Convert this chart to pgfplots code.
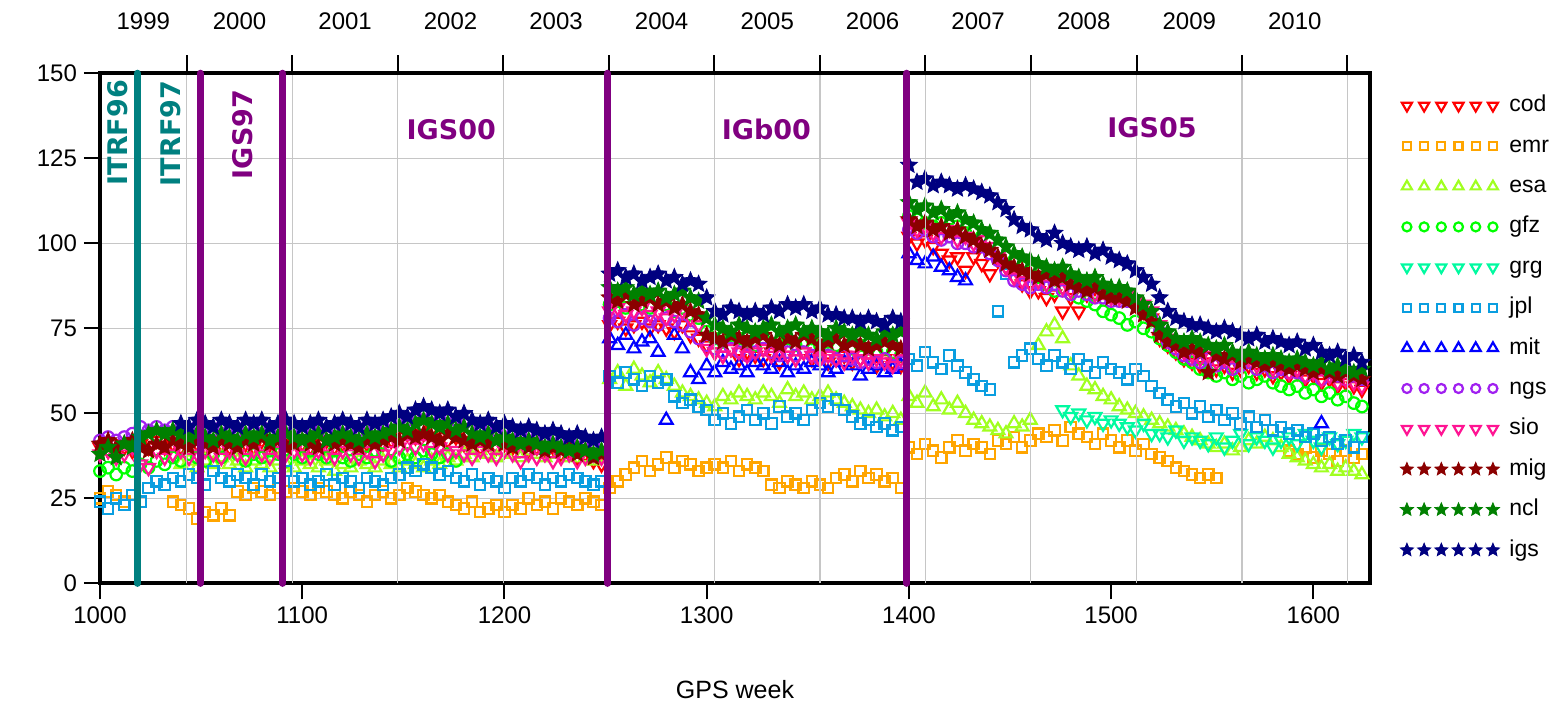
\documentclass[border=0pt]{standalone}
\usepackage{fontspec}
\setmainfont{Liberation Sans}
\newfontfamily\labfont{DejaVu Sans}
\usepackage{pgfplots}
\pgfplotsset{compat=1.18}
\usepackage{pgfplotstable}

\definecolor{ccod}{RGB}{255,0,0}
\definecolor{cemr}{RGB}{255,165,0}
\definecolor{cesa}{RGB}{160,255,32}
\definecolor{cgfz}{RGB}{0,255,0}
\definecolor{cgrg}{RGB}{0,250,160}
\definecolor{cjpl}{RGB}{10,158,224}
\definecolor{cmit}{RGB}{0,0,255}
\definecolor{cngs}{RGB}{160,32,240}
\definecolor{csio}{RGB}{255,20,147}
\definecolor{cmig}{RGB}{139,0,0}
\definecolor{cncl}{RGB}{0,128,0}
\definecolor{cigs}{RGB}{0,0,128}
\definecolor{cpur}{RGB}{128,0,128}
\definecolor{cteal}{RGB}{0,128,128}

\pgfdeclareplotmark{fstar}{%
  \pgfpathmoveto{\pgfqpointpolar{90}{\pgfplotmarksize}}%
  \pgfpathlineto{\pgfqpointpolar{126}{0.45\pgfplotmarksize}}%
  \pgfpathlineto{\pgfqpointpolar{162}{\pgfplotmarksize}}%
  \pgfpathlineto{\pgfqpointpolar{198}{0.45\pgfplotmarksize}}%
  \pgfpathlineto{\pgfqpointpolar{234}{\pgfplotmarksize}}%
  \pgfpathlineto{\pgfqpointpolar{270}{0.45\pgfplotmarksize}}%
  \pgfpathlineto{\pgfqpointpolar{306}{\pgfplotmarksize}}%
  \pgfpathlineto{\pgfqpointpolar{342}{0.45\pgfplotmarksize}}%
  \pgfpathlineto{\pgfqpointpolar{18}{\pgfplotmarksize}}%
  \pgfpathlineto{\pgfqpointpolar{54}{0.45\pgfplotmarksize}}%
  \pgfpathclose
  \pgfusepathqfillstroke
}

\pgfplotstableread{
wk cod emr esa gfz grg jpl mit ngs sio mig ncl igs
1000 40 25 nan 33 nan 24 nan 42 38 41 38 nan
1004 39 27 nan 34 nan 22 nan 43 39 42 40 nan
1008 41 26 nan 32 nan 25 nan 42 37 40 37 nan
1012 40 24 nan 34 nan 23 nan 43 38 41 41 nan
1016 39 nan nan 33 nan 26 nan 44 40 42 40 nan
1020 41 nan nan 35 nan 24 nan 46 35 40 43 nan
1024 40 nan nan 34 nan 28 nan 45 34 39 44 nan
1028 42 nan nan 36 nan 30 nan 46 39 41 45 nan
1032 40 nan nan 35 nan 29 nan 45 37 40 44 nan
1036 41 24 nan 37 nan 31 nan 46 38 42 45 nan
1040 40 23 35 36 nan 30 nan 46 39 41 44 47
1044 42 22 36 38 nan 32 nan 45 37 40 43 46
1048 41 19 34 37 nan 31 nan 46 38 42 44 48
1052 40 21 36 36 nan 29 nan 45 39 41 43 47
1056 42 20 35 38 nan 33 nan 45 38 40 42 46
1060 41 22 37 37 nan 31 nan 46 37 42 44 48
1064 40 20 35 39 nan 30 nan 45 39 41 43 47
1068 42 27 36 38 nan 32 nan 45 38 40 42 46
1072 41 26 34 36 nan 31 nan 46 37 42 44 48
1076 40 28 36 38 nan 29 nan 45 39 41 43 47
1080 42 27 35 37 nan 32 nan 46 38 43 44 48
1084 41 26 34 39 nan 30 nan 45 37 41 42 46
1088 40 28 36 38 nan 31 nan 45 39 42 43 47
1092 41 27 35 36 nan 33 nan 46 38 40 44 48
1096 42 28 34 38 nan 30 nan 45 39 41 43 47
1100 41 27 36 37 nan 31 nan 45 38 42 42 46
1104 40 26 35 39 nan 29 nan 46 37 41 43 47
1108 41 28 34 38 nan 30 nan 45 39 40 44 48
1112 42 27 36 37 nan 32 nan 45 38 42 42 46
1116 40 26 33 39 nan 29 nan 46 37 41 43 47
1120 41 25 35 37 nan 31 nan 46 39 42 44 48
1124 42 27 34 36 nan 30 nan 45 38 41 43 47
1128 40 26 36 38 nan 28 nan 45 37 40 42 46
1132 41 24 35 37 nan 31 nan 46 39 42 44 48
1136 42 26 34 39 nan 30 nan 46 36 41 43 47
1140 41 27 36 38 nan 29 nan 46 38 42 44 48
1144 42 25 35 36 nan 31 nan 47 39 43 45 49
1148 43 26 34 37 nan 32 nan 48 40 42 46 50
1152 44 28 36 38 nan 34 nan 48 41 44 45 49
1156 43 27 35 37 nan 33 nan 49 40 43 47 51
1160 44 26 34 39 nan 35 nan 50 41 44 48 52
1164 45 25 36 38 nan 34 nan 49 39 43 47 51
1168 43 26 35 37 nan 32 nan 48 40 42 46 50
1172 42 24 37 38 nan 33 nan 48 38 44 47 51
1176 43 23 36 36 nan 31 nan 48 39 43 45 49
1180 41 22 38 nan nan 30 nan 47 38 42 46 50
1184 42 24 37 nan nan 32 nan 46 37 41 44 48
1188 40 21 39 nan nan 29 nan 46 39 42 43 47
1192 41 22 38 nan nan 31 nan 46 38 41 44 48
1196 40 23 37 nan nan 30 nan 45 37 42 42 46
1200 41 21 39 nan nan 28 nan 45 39 41 43 47
1204 40 23 38 nan nan 31 nan 44 38 40 42 46
1208 41 22 37 nan nan 30 nan 44 36 41 41 45
1212 39 25 39 nan nan 32 nan 44 38 40 42 46
1216 40 23 38 nan nan 31 nan 43 37 41 41 45
1220 39 24 37 nan nan 29 nan 43 38 39 40 44
1224 40 22 38 nan nan 31 nan 43 36 40 41 45
1228 38 25 39 nan nan 30 nan 42 37 39 40 44
1232 39 24 37 nan nan 32 nan 42 38 40 39 43
1236 37 23 38 nan nan 31 nan 42 36 38 40 44
1240 38 25 37 nan nan 30 nan 41 37 39 39 43
1244 36 24 36 nan nan 29 nan 41 38 37 38 42
1248 35 23 37 nan nan 30 nan 41 37 38 39 43
1252 76 28 60 82 nan 61 72 78 80 84 87 91
1256 77 30 62 83 nan 59 70 77 81 83 86 92
1260 75 32 58 81 nan 62 73 79 79 85 87 90
1264 76 34 63 84 nan 60 69 76 80 82 85 91
1268 77 36 61 82 nan 58 71 78 81 83 86 89
1272 75 33 59 81 nan 61 72 77 79 84 85 90
1276 76 35 62 83 nan 59 68 76 80 82 86 91
1280 75 37 60 82 nan 60 48 78 78 83 84 89
1284 74 34 58 80 nan 55 73 77 79 81 85 90
1288 76 36 56 81 nan 53 69 76 80 82 86 88
1292 73 35 55 79 nan 54 62 74 78 80 84 89
1296 72 33 54 78 nan 52 60 72 76 79 83 88
1300 70 34 53 74 nan 51 64 70 69 73 78 84
1304 68 35 52 72 nan 48 62 69 68 72 76 80
1308 67 34 55 71 nan 50 65 68 67 71 75 79
1312 69 36 54 73 nan 47 63 69 69 73 74 81
1316 66 33 56 72 nan 49 64 68 68 72 76 80
1320 68 35 55 71 nan 51 62 67 67 71 75 79
1324 67 34 54 70 nan 48 65 68 68 72 74 80
1328 66 33 56 72 nan 50 64 69 69 73 75 79
1332 68 29 55 73 nan 47 63 68 67 71 76 81
1336 65 28 53 71 nan 52 65 67 68 70 74 80
1340 67 30 57 72 nan 49 62 68 67 72 75 82
1344 66 29 55 70 nan 50 64 67 66 71 76 81
1348 68 28 56 71 nan 48 63 68 68 73 74 82
1352 66 30 54 72 nan 51 65 67 67 72 75 80
1356 67 29 55 70 nan 53 64 66 66 70 74 81
1360 65 28 56 71 nan 52 62 67 67 71 73 79
1364 66 31 54 70 nan 54 63 66 66 72 75 79
1368 67 32 53 71 nan 51 65 67 65 70 74 78
1372 65 30 52 69 nan 49 64 66 67 71 73 78
1376 66 33 51 70 nan 47 61 65 66 70 74 77
1380 65 31 50 69 nan 48 63 66 65 69 73 78
1384 64 32 51 68 nan 46 64 65 66 70 72 77
1388 66 30 49 69 nan 47 62 66 65 71 74 76
1392 65 31 50 68 nan 45 63 64 64 70 73 78
1396 64 28 48 67 nan 46 64 65 66 69 74 77
1400 102 40 55 108 nan 66 97 104 106 107 112 123
1404 100 38 53 107 nan 64 95 103 104 105 110 118
1408 101 41 56 106 nan 68 94 104 105 106 111 119
1412 99 39 52 105 nan 65 96 102 103 104 109 117
1416 97 37 54 106 nan 63 93 101 102 105 110 118
1420 95 40 51 104 nan 67 92 102 104 103 108 117
1424 96 42 53 105 nan 64 90 100 101 104 109 116
1428 92 39 50 103 nan 62 89 100 102 102 107 117
1432 96 41 48 104 nan 60 nan 99 100 101 106 116
1436 94 40 47 102 nan 58 nan 99 101 99 104 115
1440 91 38 46 100 nan 57 nan 97 99 98 103 114
1444 95 42 45 98 nan 80 nan 95 96 96 101 112
1448 93 41 44 96 nan 91 nan 92 93 94 99 110
1452 90 43 47 95 nan 65 nan 89 90 93 97 107
1456 88 40 46 93 nan 67 nan 88 89 92 96 105
1460 86 42 48 92 nan 69 nan 87 88 91 95 104
1464 86 44 70 90 nan 66 nan 88 89 90 94 102
1468 84 43 74 88 nan 64 nan 87 88 91 93 101
1472 85 45 76 86 nan 67 nan 88 90 89 92 103
1476 80 42 72 87 51 65 nan 86 87 90 93 100
1480 84 46 64 85 49 63 nan 85 86 88 91 99
1484 80 44 61 84 50 66 nan 86 88 87 90 98
1488 85 43 58 83 48 64 nan 85 87 86 89 99
1492 87 41 57 82 49 62 nan 84 85 87 90 97
1496 86 44 55 80 47 65 nan 84 86 85 88 98
1500 85 42 54 79 48 63 nan 83 84 84 87 96
1504 85 40 52 78 47 62 nan 83 84 84 87 95
1508 84 42 51 76 46 60 nan 83 85 83 86 94
1512 82 39 50 77 45 63 nan 82 83 81 84 92
1516 80 41 49 75 47 61 nan 80 82 79 82 90
1520 78 38 48 74 44 58 nan 78 80 77 80 88
1524 72 37 47 72 44 56 nan 74 76 73 76 84
1528 70 36 46 70 43 54 nan 71 72 71 74 80
1532 68 34 45 68 45 52 nan 69 70 70 72 78
1536 66 33 44 66 42 53 nan 67 68 68 71 77
1540 65 32 43 65 43 50 nan 66 67 69 72 76
1544 64 31 42 63 42 52 nan 65 66 68 71 76
1548 65 32 41 62 41 49 nan 66 67 62 70 75
1552 63 31 40 61 43 51 nan 64 65 67 69 74
1556 64 nan 41 62 40 48 nan 65 66 66 70 75
1560 62 nan 39 60 42 50 nan 63 64 67 68 74
1564 63 nan 40 61 44 47 nan 64 65 65 67 73
1568 64 nan 42 59 41 49 nan 65 66 66 68 72
1572 62 nan 41 60 43 46 nan 63 64 65 67 73
1576 63 nan 43 61 42 48 nan 64 65 64 66 71
1580 61 nan 42 59 40 45 nan 62 63 65 67 72
1584 62 nan 40 58 42 46 nan 63 64 64 66 71
1588 61 39 38 57 43 44 nan 62 62 63 65 70
1592 62 38 37 58 41 45 nan 62 63 64 66 71
1596 60 40 36 56 44 43 nan 61 61 63 65 69
1600 61 37 35 57 42 44 nan 62 62 62 64 70
1604 59 39 34 55 40 42 47 60 60 63 65 68
1608 60 38 35 56 43 43 nan 62 61 62 63 67
1612 58 36 33 54 41 41 nan 61 59 61 64 68
1616 59 39 34 55 42 42 nan 60 60 62 63 66
1620 58 37 33 53 44 40 nan 61 59 61 62 67
1624 57 38 32 52 43 43 nan 60 58 60 63 65
}\datatab

\begin{document}
\begin{tikzpicture}
\useasboundingbox (-50pt,-58.85pt) rectangle (731.5pt,291.65pt);
% data axis
\begin{axis}[
  at={(0pt,0pt)}, anchor=south west,
  scale only axis, width=635pt, height=255pt,
  xmin=1000, xmax=1628, ymin=0, ymax=150,
  axis on top,
  xtick={1000,1100,...,1600}, xtick pos=lower,
  ytick={0,25,...,150}, ytick pos=left,
  /pgf/number format/assume math mode=true,
  /pgf/number format/1000 sep={},
  tick align=outside, major tick length=8pt,
  every tick/.style={black, line width=1pt},
  ymajorgrids, grid style={gray!45, line width=0.6pt},
  axis line style={line width=2pt},
  ticklabel style={font=\fontsize{12}{14}\selectfont},
  xlabel={GPS week},
  xlabel style={font=\fontsize{12.5}{15}\selectfont, at={(axis description cs:0.5,0)}, anchor=center, yshift=-53pt},
  legend image code/.code={\draw[mark repeat=1,mark phase=1,#1,every mark/.append style={scale=0.78}] plot coordinates {(0pt,0pt) (8.6pt,0pt) (17.2pt,0pt) (25.8pt,0pt) (34.4pt,0pt) (43pt,0pt)};},
  legend style={draw=none, fill=none, at={(1,1)}, anchor=north west, xshift=15pt, yshift=-8.5pt,
    inner sep=0pt, row sep=5.2pt, font=\fontsize{11.5}{14}\selectfont,
    nodes={inner sep=1.5pt, text height=9pt, text depth=3pt},
    /tikz/every odd column/.append style={column sep=3.5pt}},
  legend cell align=left,
]
\addplot[only marks, color=ccod, mark=triangle, mark size=3.7pt, line width=1.1pt, mark options={rotate=180}] table[x=wk,y=cod]{\datatab};
\addlegendentry{cod}
\addplot[only marks, color=cemr, mark=square, mark size=2.6pt, line width=1.1pt] table[x=wk,y=emr]{\datatab};
\addlegendentry{emr}
\addplot[only marks, color=cesa, mark=triangle, mark size=3.7pt, line width=1.1pt] table[x=wk,y=esa]{\datatab};
\addlegendentry{esa}
\addplot[only marks, color=cgfz, mark=o, mark size=2.9pt, line width=1.1pt] table[x=wk,y=gfz]{\datatab};
\addlegendentry{gfz}
\addplot[only marks, color=cgrg, mark=triangle, mark size=3.7pt, line width=1.1pt, mark options={rotate=180}] table[x=wk,y=grg]{\datatab};
\addlegendentry{grg}
\addplot[only marks, color=cjpl, mark=square, mark size=2.6pt, line width=1.1pt] table[x=wk,y=jpl]{\datatab};
\addlegendentry{jpl}
\addplot[only marks, color=cmit, mark=triangle, mark size=3.7pt, line width=1.1pt] table[x=wk,y=mit]{\datatab};
\addlegendentry{mit}
\addplot[only marks, color=cngs, mark=o, mark size=2.9pt, line width=1.1pt] table[x=wk,y=ngs]{\datatab};
\addlegendentry{ngs}
\addplot[only marks, color=csio, mark=triangle, mark size=3.7pt, line width=1.1pt, mark options={rotate=180}] table[x=wk,y=sio]{\datatab};
\addlegendentry{sio}
\addplot[only marks, color=cmig, mark=fstar, mark size=4.4pt, line width=0.4pt, mark options={fill=cmig}] table[x=wk,y=mig]{\datatab};
\addlegendentry{mig}
\addplot[only marks, color=cncl, mark=fstar, mark size=4.4pt, line width=0.4pt, mark options={fill=cncl}] table[x=wk,y=ncl]{\datatab};
\addlegendentry{ncl}
\addplot[only marks, color=cigs, mark=fstar, mark size=4.4pt, line width=0.4pt, mark options={fill=cigs}] table[x=wk,y=igs]{\datatab};
\addlegendentry{igs}
\end{axis}
% year axis, grid, frame lines and labels
\begin{axis}[
  at={(0pt,0pt)}, anchor=south west,
  scale only axis, width=635pt, height=255pt,
  xmin=1000, xmax=1628, ymin=0, ymax=150,
  clip=false,
  axis x line*=top, axis y line=none,
  xtick={1042.857,1095.143,1147.286,1199.429,1251.571,1303.857,1356,1408.143,1460.286,1512.571,1564.714,1616.857},
  xticklabels={},
  xmajorgrids, grid style={gray!45, line width=0.6pt},
  tick align=outside, major tick length=9pt,
  every tick/.style={black, line width=1pt},
  axis line style={line width=2pt},
]
\foreach \xx/\yy in {1021.43/1999,1069.0/2000,1121.21/2001,1173.36/2002,1225.5/2003,1277.71/2004,1329.93/2005,1382.07/2006,1434.21/2007,1486.43/2008,1538.64/2009,1590.79/2010}{
  \edef\tmp{\noexpand\node[font=\noexpand\fontsize{12}{14}\noexpand\selectfont] at (axis cs:\xx,150) [yshift=26pt] {\yy};}\tmp
}
\draw[cteal, line width=3.6pt, line cap=round] (axis cs:1018.5,0) -- (axis cs:1018.5,150);
\draw[cpur, line width=3.6pt, line cap=round] (axis cs:1049.6,0) -- (axis cs:1049.6,150);
\draw[cpur, line width=3.6pt, line cap=round] (axis cs:1090.4,0) -- (axis cs:1090.4,150);
\draw[cpur, line width=3.6pt, line cap=round] (axis cs:1251,0) -- (axis cs:1251,150);
\draw[cpur, line width=3.6pt, line cap=round] (axis cs:1399,0) -- (axis cs:1399,150);
\node[rotate=90, text=cteal, font=\labfont\bfseries\fontsize{13.5}{15}\selectfont] at (axis cs:1008.5,132.5) {ITRF96};
\node[rotate=90, text=cteal, font=\labfont\bfseries\fontsize{13.5}{15}\selectfont] at (axis cs:1035,132.3) {ITRF97};
\node[rotate=90, text=cpur, font=\labfont\bfseries\fontsize{13.5}{15}\selectfont] at (axis cs:1070.7,132) {IGS97};
\node[text=cpur, font=\labfont\bfseries\fontsize{13.5}{15}\selectfont] at (axis cs:1173.7,133.5) {IGS00};
\node[text=cpur, font=\labfont\bfseries\fontsize{13.5}{15}\selectfont] at (axis cs:1329.5,133.5) {IGb00};
\node[text=cpur, font=\labfont\bfseries\fontsize{13.5}{15}\selectfont] at (axis cs:1520.2,134) {IGS05};
\end{axis}
\end{tikzpicture}
\end{document}
